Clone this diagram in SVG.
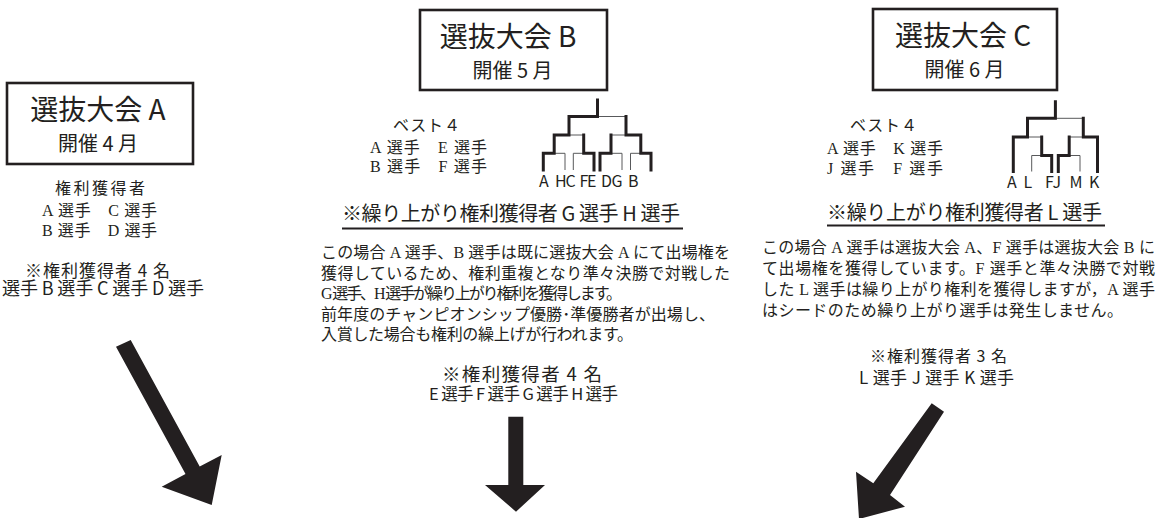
<svg xmlns="http://www.w3.org/2000/svg" width="1164" height="518" viewBox="0 0 1164 518">
<style>
.sans{font-family:"Noto Sans CJK JP","Noto Sans",sans-serif;fill:#231f20}
.serif{font-family:"Liberation Serif","Noto Sans CJK JP",serif;fill:#231f20;font-size:16px}
.box{fill:#fff;stroke:#231f20;stroke-width:2.6}
.title{font-size:28px;text-anchor:middle}
.sub{font-size:20px;text-anchor:middle}
.mid{text-anchor:middle}
.thick{fill:none;stroke:#231f20;stroke-width:3;stroke-linecap:square}
.thin{fill:none;stroke:#58595b;stroke-width:1}
.ul{stroke:#231f20;stroke-width:2}
.lbl{font-size:16px}
.arrow{fill:#231f20}
</style>
<rect width="1164" height="518" fill="#fff"/>

<g id="tournament-a">
  <rect class="box" x="7" y="83" width="186" height="81"/>
  <text class="sans title" x="98" y="120">選抜大会 A</text>
  <text class="sans sub" x="98" y="151">開催 4 月</text>
  <text class="serif mid" x="100" y="194" textLength="90">権利獲得者</text>
  <text class="serif mid" x="99.5" y="215.5" textLength="115">A 選手　C 選手</text>
  <text class="serif mid" x="99.5" y="235.5" textLength="115">B 選手　D 選手</text>
  <text class="sans mid" x="97.5" y="276.5" font-size="17" textLength="145">※権利獲得者 4 名</text>
  <text class="sans" x="2" y="295" font-size="18" textLength="202">選手 B 選手 C 選手 D 選手</text>
</g>

<g id="tournament-b">
  <rect class="box" x="420" y="10" width="187" height="80"/>
  <text class="sans title" x="508" y="47">選抜大会 B</text>
  <text class="sans sub" x="512.5" y="78">開催 5 月</text>
  <text class="serif mid" x="426.5" y="131" textLength="67">ベスト４</text>
  <text class="serif mid" x="428.5" y="152.5" textLength="117">A 選手　E 選手</text>
  <text class="serif mid" x="428.5" y="172" textLength="117">B 選手　F 選手</text>
  <g id="bracket-b">
    <path class="thin" d="M597.5 116.5H626M569 135H583.7M611 135H626M554.2 153.3H565V170M573.3 170V153.3H583.7M611 153.3H622V170M630.5 170V153.3H640.8"/>
    <path class="thick" d="M597.5 100V116.5H569V135H554.2V153.3H543.3V170M626 116.5V135H640.8V153.3H651V170M583.7 135V153.3H594V170M611 135V153.3H600V170"/>
    <text class="sans lbl" y="187"><tspan x="539">A</tspan><tspan x="555">H</tspan><tspan x="565.5">C</tspan><tspan x="579.5">F</tspan><tspan x="587">E</tspan><tspan x="601">D</tspan><tspan x="611.5">G</tspan><tspan x="628">B</tspan></text>
  </g>
  <text class="sans" x="342" y="221" font-size="20" textLength="338">※繰り上がり権利獲得者 G 選手 H 選手</text>
  <line class="ul" x1="342" y1="228.5" x2="683" y2="228.5"/>
  <text class="serif" x="321" y="258" textLength="409">この場合 A 選手、B 選手は既に選抜大会 A にて出場権を</text>
  <text class="serif" x="321" y="278.5" textLength="409">獲得しているため、権利重複となり準々決勝で対戦した</text>
  <text class="serif" x="321" y="299" textLength="301">G 選手、H 選手が繰り上がり権利を獲得します。</text>
  <text class="serif" x="321" y="319.5" textLength="394">前年度のチャンピオンシップ優勝･準優勝者が出場し、</text>
  <text class="serif" x="321" y="340" textLength="312">入賞した場合も権利の繰上げが行われます。</text>
  <text class="sans mid" x="522" y="380.5" font-size="18.5" textLength="160">※権利獲得者 4 名</text>
  <text class="sans mid" x="523.5" y="400" font-size="16.5" textLength="189">E 選手 F 選手 G 選手 H 選手</text>
</g>

<g id="tournament-c">
  <rect class="box" x="873" y="9" width="184" height="81"/>
  <text class="sans title" x="963" y="46">選抜大会 C</text>
  <text class="sans sub" x="964.5" y="77">開催 6 月</text>
  <text class="serif mid" x="883.5" y="131" textLength="67">ベスト４</text>
  <text class="serif mid" x="885" y="153.5" textLength="116">A 選手　K 選手</text>
  <text class="serif mid" x="885" y="173.5" textLength="116">J 選手　F 選手</text>
  <g id="bracket-c">
    <path class="thin" d="M1055.4 118.3H1083.3M1027.5 137H1041.7M1069.2 137H1083.3M1041.7 155.5H1031.7V171.5M1069.2 155.5H1080V171.5"/>
    <path class="thick" d="M1055.4 101.7V118.3H1027.5V137H1013.3V171.5M1041.7 137V155.5H1051.7V171.5M1083.3 118.3V137H1097.5V171.5M1069.2 137V155.5H1058.3V171.5"/>
    <text class="sans lbl" y="188"><tspan x="1007">A</tspan><tspan x="1023.5">L</tspan><tspan x="1045">F</tspan><tspan x="1052.5">J</tspan><tspan x="1069.5">M</tspan><tspan x="1089">K</tspan></text>
  </g>
  <text class="sans" x="827" y="220" font-size="20" textLength="275">※繰り上がり権利獲得者 L 選手</text>
  <line class="ul" x1="827" y1="225.5" x2="1105" y2="225.5"/>
  <text class="serif" x="762" y="253" textLength="393">この場合 A 選手は選抜大会 A、F 選手は選抜大会 B に</text>
  <text class="serif" x="762" y="273.5" textLength="393">て出場権を獲得しています。F 選手と準々決勝で対戦</text>
  <text class="serif" x="762" y="295" textLength="393">した L 選手は繰り上がり権利を獲得しますが，A 選手</text>
  <text class="serif" x="762" y="316" textLength="361">はシードのため繰り上がり選手は発生しません。</text>
  <text class="sans mid" x="938.5" y="362" font-size="16" textLength="137">※権利獲得者 3 名</text>
  <text class="sans mid" x="936.5" y="384" font-size="17" textLength="155">L 選手 J 選手 K 選手</text>
</g>

<g id="connectors">
  <polygon class="arrow" points="116,346.7 130.7,340 199.7,466.6 221.7,455 211.7,505 161.7,486.7 185.5,474.1"/>
  <polygon class="arrow" points="508.3,416.7 523.3,416.7 523.3,485 545,485 516,511.7 485,485 508.3,485"/>
  <polygon class="arrow" points="931.7,403.3 944,411.7 890,495 905,506.7 859,519 856,471.7 873.3,483.3"/>
</g>
</svg>
